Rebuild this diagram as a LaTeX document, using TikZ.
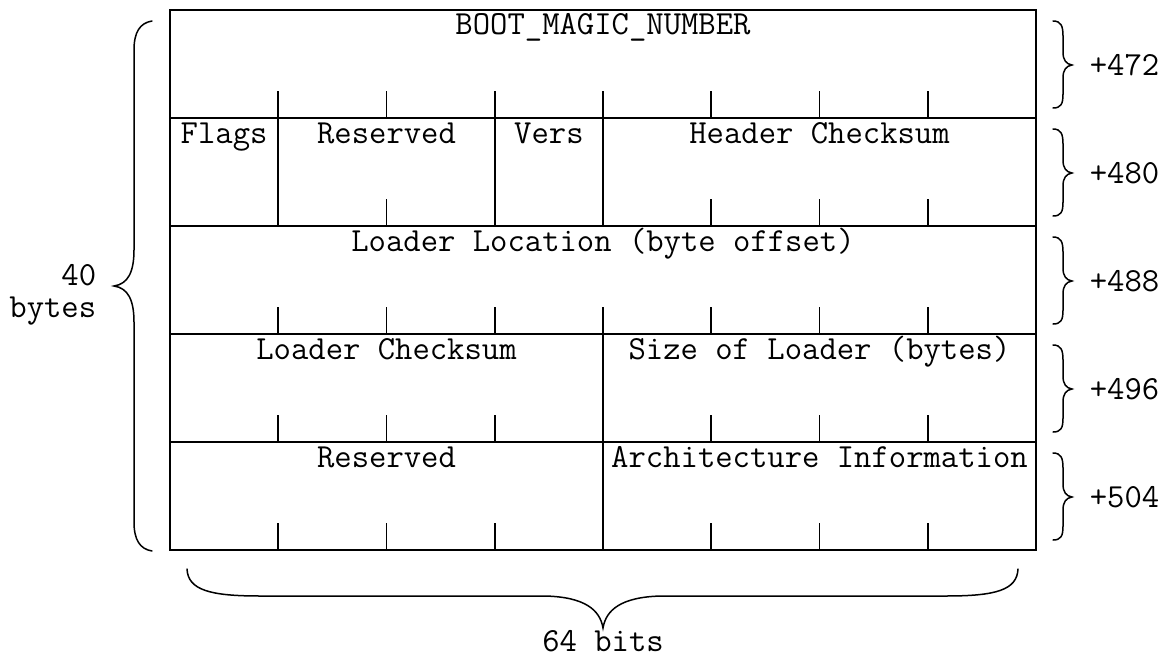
\documentclass[tikz,border=0pt]{standalone}
\usepackage{fontspec}
\begin{document}
\begin{tikzpicture}[x=1pt,y=-1pt,line width=1.6pt,
  txt/.style={inner sep=0pt,font=\ttfamily\fontsize{33.7}{34}\selectfont},
  field/.style={txt,anchor=base},
  offset/.style={txt,anchor=west},
  brace/.style={line width=1.5pt,line cap=round}]
\useasboundingbox (0,0) rectangle (1164,658);
\def\cw{108.25}
% frame and row separators
\draw (170,10) rectangle (1036,550);
\foreach \r in {1,...,4} \draw (170,10+108*\r) -- (1036,10+108*\r);
% byte ticks at the bottom of each row
\foreach \r/\cols in {0/{1,2,3,4,5,6,7},1/{2,5,6,7},2/{1,2,3,4,5,6,7},3/{1,2,3,5,6,7},4/{1,2,3,5,6,7}}
  \foreach \c in \cols
    \draw (170+\c*\cw,118+108*\r) -- (170+\c*\cw,91+108*\r);
% full-height field dividers
\foreach \c in {1,3,4} \draw (170+\c*\cw,118) -- (170+\c*\cw,226);
\draw (170+4*\cw,334) -- (170+4*\cw,550);
% field names
\node[field] (magic) at (603,35) {BOOT\_MAGIC\_NUMBER};
\node[field] (flags) at (224.1,143) {Flags};
\node[field] (res1) at (386.5,143) {Reserved};
\node[field] (vers) at (548.9,143) {Vers};
\node[field] (hcs) at (819.5,143) {Header Checksum};
\node[field] (loc) at (603,251) {Loader Location (byte offset)};
\node[field] (lcs) at (386.5,359) {Loader Checksum};
\node[field] (size) at (819.5,359) {Size of Loader (bytes)};
\node[field] (res2) at (386.5,467) {Reserved};
\node[field] (arch) at (819.5,467) {Architecture Information};
% offset braces on the right
\foreach \r/\lbl in {0/+472,1/+480,2/+488,3/+496,4/+504}{
  \pgfmathsetmacro{\t}{10+108*\r}
  \draw[brace] (1053,\t+11) .. controls (1061,\t+11) and (1063,\t+16) .. (1063,\t+26)
    -- (1063,\t+42) .. controls (1063,\t+50) and (1066,\t+54) .. (1072,\t+55)
    .. controls (1066,\t+56) and (1063,\t+60) .. (1063,\t+68)
    -- (1063,\t+84) .. controls (1063,\t+94) and (1061,\t+98) .. (1053,\t+98);
  \node[offset] (off\r) at (1089,\t+55) {\lbl};
}
% overall size brace on the left
\draw[brace] (152,21) .. controls (140,23) and (134,32) .. (134,50)
  -- (134,250) .. controls (134,272) and (128,284) .. (114,286)
  .. controls (128,288) and (134,300) .. (134,322)
  -- (134,522) .. controls (134,540) and (140,549) .. (152,551);
\node[txt,anchor=base east] (n40) at (97,285) {40};
\node[txt,anchor=base east] (nbytes) at (97,317) {bytes};
% width brace at the bottom
\draw[brace] (187,569) .. controls (188,590) and (210,596) .. (260,596)
  -- (545,596) .. controls (585,597) and (600,610) .. (603,628)
  .. controls (606,610) and (621,597) .. (661,596)
  -- (946,596) .. controls (996,596) and (1017,590) .. (1018,569);
\node[field] (bits) at (603,651) {64 bits};
\end{tikzpicture}
\end{document}
